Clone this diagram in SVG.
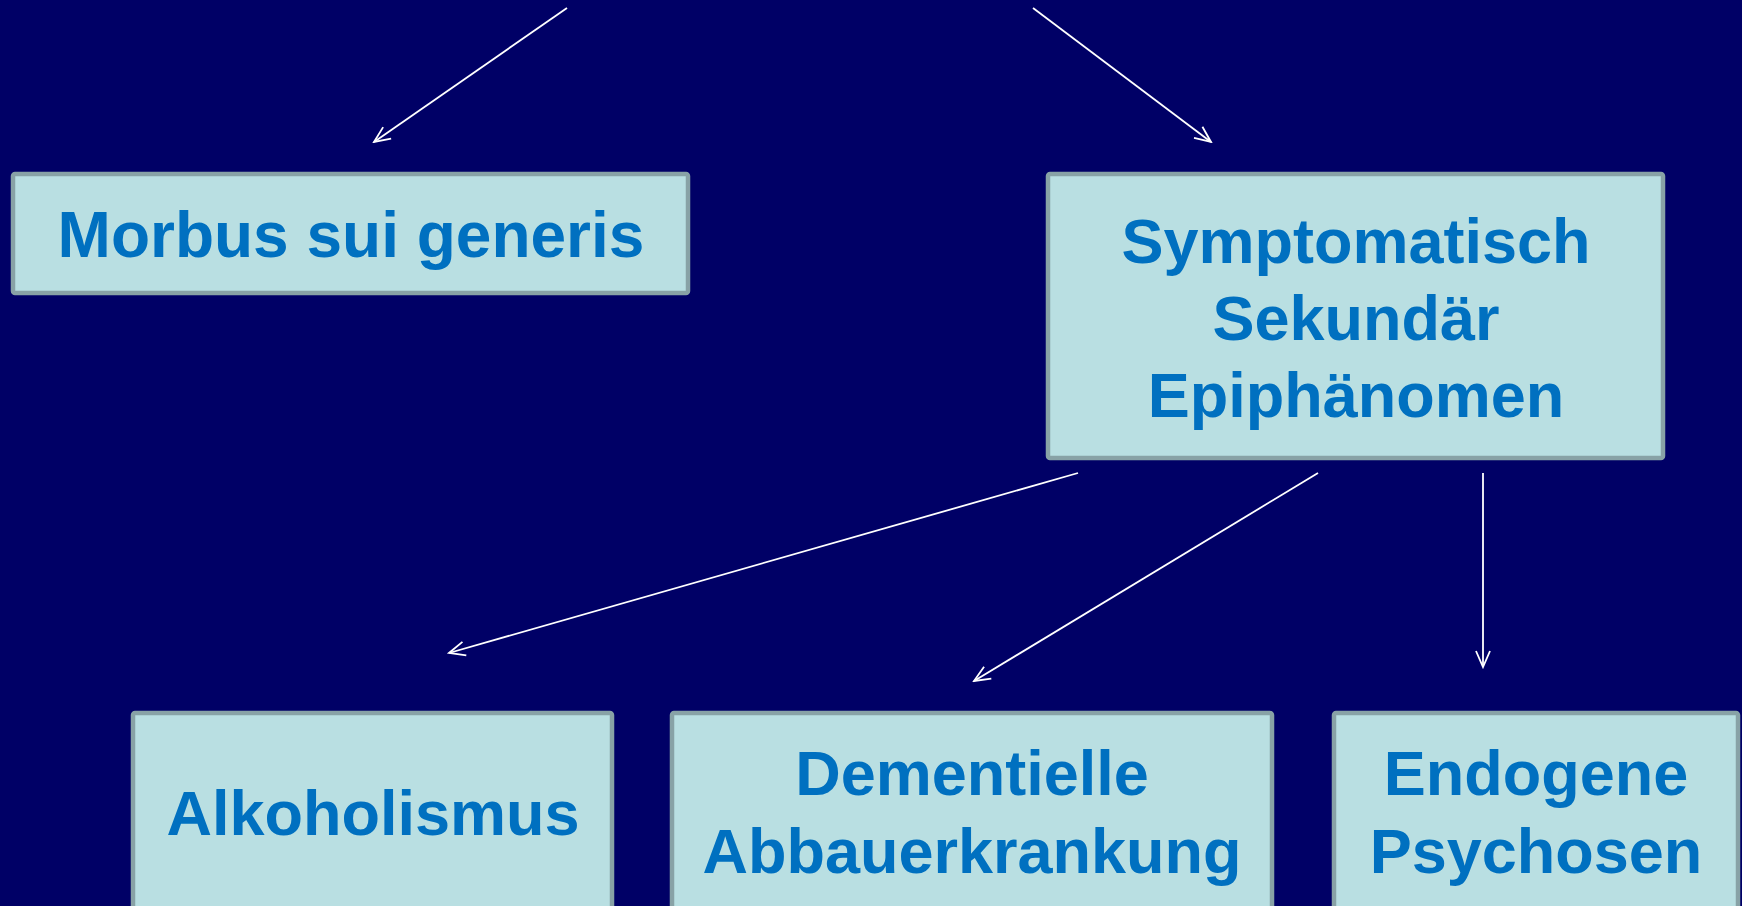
<svg xmlns="http://www.w3.org/2000/svg" width="1742" height="906" viewBox="0 0 1742 906">
<style>
.box{fill:#b9dfe2;stroke:#88a2a6;stroke-width:4.5}
.t{font-family:"Liberation Sans",Arial,sans-serif;font-weight:bold;font-size:63px;fill:#0070c0;text-anchor:middle}
.c{stroke:#ffffff;stroke-width:1.8;fill:none}
</style>
<defs>
<marker id="ah" viewBox="0 0 20 20" refX="18" refY="10" markerWidth="20" markerHeight="20" markerUnits="userSpaceOnUse" orient="auto">
<path d="M2,3 L18,10 L2,17" fill="none" stroke="#ffffff" stroke-width="1.8"/>
</marker>
</defs>
<rect width="1742" height="906" fill="#000066"/>
<g id="connectors">
<line class="c" x1="567" y1="8" x2="374" y2="142" marker-end="url(#ah)"/>
<line class="c" x1="1033" y1="8" x2="1211" y2="142" marker-end="url(#ah)"/>
<line class="c" x1="1078" y1="473" x2="449" y2="653" marker-end="url(#ah)"/>
<line class="c" x1="1318" y1="473" x2="974" y2="681" marker-end="url(#ah)"/>
<line class="c" x1="1483" y1="473" x2="1483" y2="667" marker-end="url(#ah)"/>
</g>
<g id="morbus">
<rect class="box" x="13" y="174" width="675" height="119" rx="2"/>
<text class="t" x="351" y="257" style="font-size:64px">Morbus sui generis</text>
</g>
<g id="symptomatisch">
<rect class="box" x="1048" y="174" width="615" height="284" rx="2"/>
<text class="t" x="1356" y="263">Symptomatisch</text>
<text class="t" x="1356" y="340">Sekundär</text>
<text class="t" x="1356" y="417">Epiphänomen</text>
</g>
<g id="alkoholismus">
<rect class="box" x="133" y="713" width="479" height="210" rx="2"/>
<text class="t" x="373" y="835">Alkoholismus</text>
</g>
<g id="dementielle">
<rect class="box" x="672" y="713" width="600" height="210" rx="2"/>
<text class="t" x="972" y="795">Dementielle</text>
<text class="t" x="972" y="873">Abbauerkrankung</text>
</g>
<g id="endogene">
<rect class="box" x="1334" y="713" width="404" height="210" rx="2"/>
<text class="t" x="1536" y="795">Endogene</text>
<text class="t" x="1536" y="873">Psychosen</text>
</g>
</svg>
